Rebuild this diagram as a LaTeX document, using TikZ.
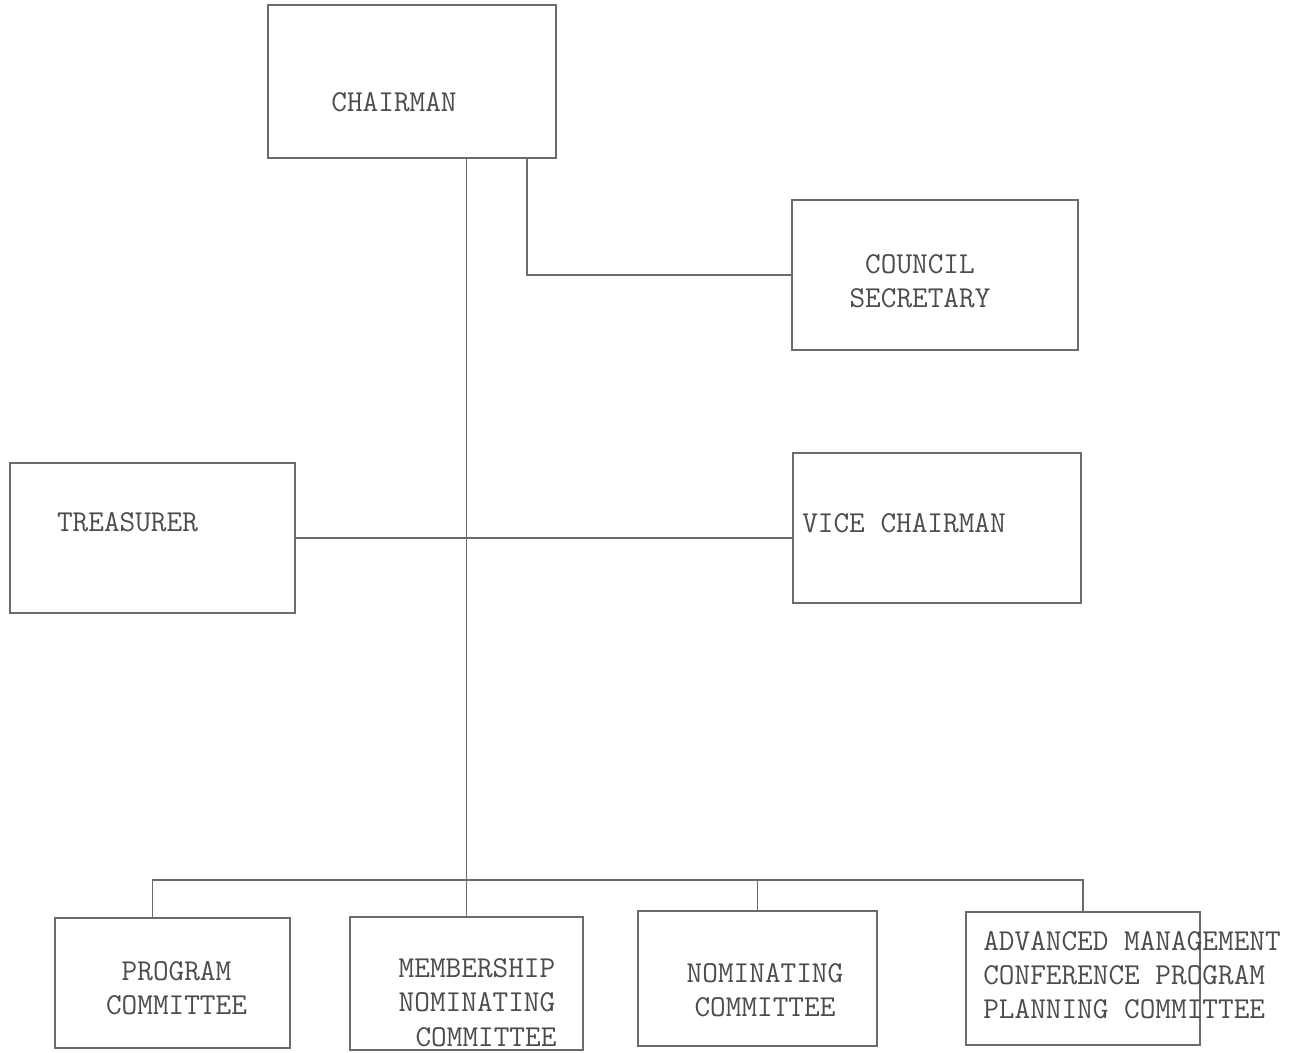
\documentclass[tikz,border=0pt]{standalone}
\usepackage{tikz}
\usetikzlibrary{positioning}
\usetikzlibrary{calc}
\usetikzlibrary{fit}

\definecolor{linegray}{gray}{0.42}
\definecolor{inkgray}{gray}{0.30}

\begin{document}
\begin{tikzpicture}[x=0.02cm, y=-0.02cm,
    unit/.style={draw=linegray, line width=0.7pt, inner sep=0pt},
    txt/.style={font=\fontsize{17.3}{19.5}\selectfont\ttfamily, text=inkgray, inner sep=0pt},
    link/.style={draw=linegray, line width=0.7pt}]
    \useasboundingbox (0,0) rectangle (1298,1053);

    % Officers
    \node[unit, fit={(268,5) (556,158)},
      label={[txt, xshift=-0.36cm, yshift=-0.41cm]center:CHAIRMAN}] (chair) {};
    \node[unit, fit={(792,200) (1078,350)},
      label={[txt, align=center, xshift=-0.30cm, yshift=-0.13cm]center:COUNCIL\\SECRETARY}] (council) {};
    \node[unit, fit={(10,463) (295,613)},
      label={[txt, xshift=-0.50cm, yshift=0.32cm]center:TREASURER}] (treas) {};
    \node[unit, fit={(793,453) (1081,603)},
      label={[txt, xshift=-0.66cm, yshift=0.10cm]center:VICE CHAIRMAN}] (vice) {};

    % Committees
    \node[unit, fit={(55,918) (290,1048)},
      label={[txt, align=center, xshift=0.08cm, yshift=-0.10cm]center:PROGRAM\\COMMITTEE}] (prog) {};
    \node[unit, fit={(350,917) (583,1050)},
      label={[txt, align=center, xshift=0.21cm, yshift=-0.38cm]center:MEMBERSHIP\\NOMINATING\\\hspace*{0.36cm}COMMITTEE}] (memb) {};
    \node[unit, fit={(638,911) (877,1046)},
      label={[txt, align=center, xshift=0.15cm, yshift=-0.23cm]center:NOMINATING\\COMMITTEE}] (nom) {};
    \node[unit, fit={(966,912) (1200,1045)},
      label={[txt, align=left, xshift=0.98cm, yshift=0.07cm]center:ADVANCED MANAGEMENT\\CONFERENCE PROGRAM\\PLANNING COMMITTEE}] (adv) {};

    % Lines of authority
    \coordinate (bus) at (0,880);
    \draw[link] (memb.north |- chair.south) -- (memb.north);
    \draw[link] ($(chair.south)+(115,0)$) |- (council.west);
    \draw[link] (treas.east) -- (treas.east -| vice.west);
    \draw[link] ($(prog.north)+(-20,0)$) |- (bus -| adv.north) -- (adv.north);
    \foreach \k in {nom} {
      \draw[link] (bus -| \k.north) -- (\k.north);
    }
\end{tikzpicture}
\end{document}
